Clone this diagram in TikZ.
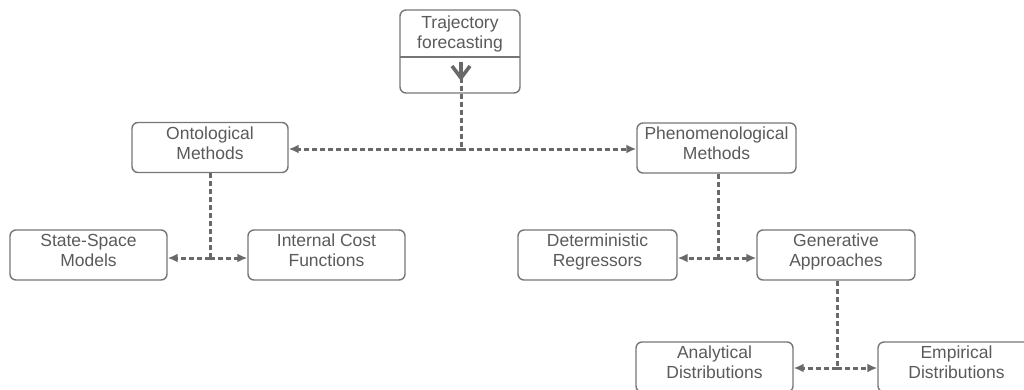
\documentclass[tikz,border=0pt]{standalone}
\usepackage{fontspec}
\setmainfont{Liberation Sans}
\usetikzlibrary{arrows.meta,calc}

\definecolor{boxgray}{RGB}{118,118,118}
\definecolor{txtgray}{RGB}{90,90,90}
\definecolor{arrgray}{RGB}{105,105,105}
\newcommand{\bw}{157pt}

\tikzset{
	box/.style={draw=boxgray,line width=1.4pt,rounded corners=6pt,
		minimum width=\bw,minimum height=50pt,align=center,text=txtgray,
		font=\fontsize{17.5}{20}\selectfont,inner sep=0pt,text depth=9pt},
	link/.style={draw=arrgray,line width=3pt,dash pattern=on 5pt off 3pt,
		-{Latex[length=10pt,width=9pt]}},
}

\begin{document}
\begin{tikzpicture}[x=1pt,y=-1pt]
	\useasboundingbox (0,0) rectangle (1024,389);
	\clip (0,0) rectangle (1024,389);

	%root box with its split line
	\node[box,minimum width=120pt,minimum height=83pt,text depth=0pt] (traj) at (460,51.5) {};
	\node[text=txtgray,align=center,font=\fontsize{17.5}{20}\selectfont] (trajtxt) at (460,34) {Trajectory\\forecasting};
	\coordinate (splitL) at (400,57);
	\coordinate (splitR) at (520,57);
	\draw[boxgray,line width=1.4pt] (splitL) -- (splitR);

	%first level
	\node[box,minimum width=156pt] (onto) at (210,147.5) {Ontological\\Methods};
	\node[box,minimum width=159pt] (pheno) at (716.5,148) {Phenomenological\\Methods};

	%second level
	\node[box] (ssm) at (88.5,255) {State-Space\\Models};
	\node[box] (icf) at (326.5,255) {Internal Cost\\Functions};
	\node[box,minimum width=159pt] (det) at (597.5,255) {Deterministic\\Regressors};
	\node[box,minimum width=158pt] (gen) at (836,255) {Generative\\Approaches};

	%third level
	\node[box] (ana) at (714.5,367) {Analytical\\Distributions};
	\node[box] (emp) at (956.5,367) {Empirical\\Distributions};

	%junctions
	\coordinate (j1) at (461,149);
	\coordinate (j2) at (210,258);
	\coordinate (j3) at (718,258);
	\coordinate (j4) at (837,368);
	\coordinate (tipbot) at (461,78);
	\coordinate (tiptop) at (461,62);

	%trunk lines
	\draw[link,-] (tipbot) -- (j1);
	\draw[arrgray,line width=3.4pt] (tipbot) -- (tiptop);
	\draw[arrgray,line width=3.6pt,line join=miter] ($(tipbot)+(-9,-12)$) -- (tipbot) -- ($(tipbot)+(9,-12)$);
	\draw[link,-] (onto.south -| j2) -- (j2);
	\draw[link,-] (pheno.south -| j3) -- (j3);
	\draw[link,-] (gen.south -| j4) -- (j4);

	%branch arrows
	\foreach \j/\a/\b in {j1/onto/pheno,j2/ssm/icf,j3/det/gen,j4/ana/emp}{
		\draw[link] (\j) -- (\a.east |- \j);
		\draw[link] (\j) -- (\b.west |- \j);
	}
\end{tikzpicture}
\end{document}
